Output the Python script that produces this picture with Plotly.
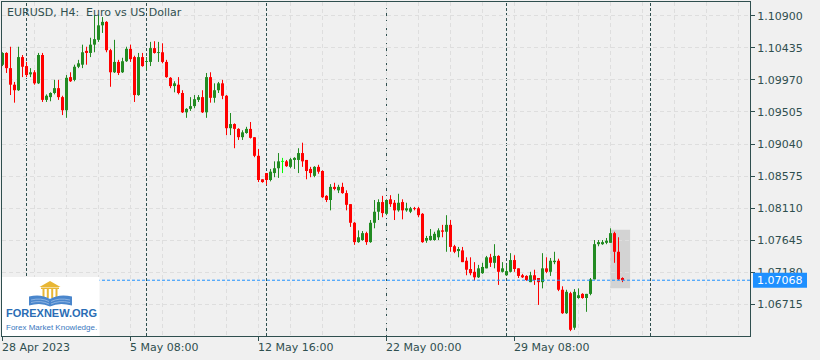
import plotly.graph_objects as go

# ---------------- data ----------------
chart_title = "EURUSD, H4:\u00a0 Euro vs US Dollar"

opens = [1.1019, 1.1036, 1.1014, 1.0990, 1.0982, 1.1030, 1.1017, 1.1005, 1.1008, 1.0992,
         1.1033, 1.0968, 1.0972, 1.0978, 1.0985, 1.0972, 1.0953, 1.1001, 1.0997, 1.1016,
         1.1019, 1.1039, 1.1036, 1.1048, 1.1055, 1.1076, 1.1081, 1.1040, 1.1008, 1.1023,
         1.1008, 1.1024, 1.1042, 1.1030, 1.0975, 1.1030, 1.1023, 1.1023, 1.1043, 1.1036,
         1.1037, 1.1023, 1.1000, 1.0988, 1.0990, 1.0978, 1.0950, 1.0955, 1.0959, 1.0968,
         1.0972, 1.0950, 1.1001, 1.0971, 1.0982, 1.0992, 1.0974, 1.0927, 1.0933, 1.0926,
         1.0914, 1.0920, 1.0926, 1.0914, 1.0887, 1.0853, 1.0862, 1.0852, 1.0862, 1.0869,
         1.0879, 1.0879, 1.0871, 1.0881, 1.0881, 1.0891, 1.0881, 1.0868, 1.0858, 1.0871,
         1.0865, 1.0829, 1.0823, 1.0842, 1.0837, 1.0842, 1.0833, 1.0817, 1.0790, 1.0762,
         1.0765, 1.0775, 1.0762, 1.0790, 1.0806, 1.0820, 1.0803, 1.0824, 1.0819, 1.0808,
         1.0820, 1.0808, 1.0806, 1.0811, 1.0811, 1.0803, 1.0764, 1.0765, 1.0765, 1.0769,
         1.0779, 1.0777, 1.0787, 1.0756, 1.0749, 1.0750, 1.0735, 1.0723, 1.0719, 1.0711,
         1.0717, 1.0724, 1.0740, 1.0732, 1.0742, 1.0719, 1.0714, 1.0719, 1.0736, 1.0724,
         1.0714, 1.0713, 1.0704, 1.0714, 1.0710, 1.0704, 1.0724, 1.0719, 1.0733, 1.0735,
         1.0693, 1.0659, 1.0688, 1.0638, 1.0681, 1.0687, 1.0681, 1.0687, 1.0708, 1.0759,
         1.0759, 1.0761, 1.0761, 1.0775, 1.0748, 1.0710]
highs = [1.1037, 1.1037, 1.1045, 1.0994, 1.1045, 1.1033, 1.1023, 1.1014, 1.1011, 1.1036,
         1.1036, 1.0976, 1.0979, 1.0997, 1.0997, 1.0974, 1.1004, 1.1008, 1.1019, 1.1026,
         1.1048, 1.1045, 1.1058, 1.1091, 1.1091, 1.1088, 1.1082, 1.1042, 1.1055, 1.1026,
         1.1029, 1.1045, 1.1048, 1.1032, 1.1036, 1.1036, 1.1030, 1.1052, 1.1053, 1.1052,
         1.1050, 1.1026, 1.1001, 1.0995, 1.1001, 1.0982, 1.0956, 1.0972, 1.0975, 1.0975,
         1.0982, 1.1007, 1.1008, 1.0992, 1.0994, 1.0997, 1.0975, 1.0949, 1.0934, 1.0927,
         1.0924, 1.0929, 1.0936, 1.0914, 1.0897, 1.0853, 1.0862, 1.0868, 1.0879, 1.0891,
         1.0884, 1.0881, 1.0884, 1.0885, 1.0898, 1.0906, 1.0881, 1.0871, 1.0872, 1.0874,
         1.0866, 1.0830, 1.0846, 1.0848, 1.0845, 1.0848, 1.0837, 1.0817, 1.0791, 1.0779,
         1.0778, 1.0777, 1.0794, 1.0823, 1.0824, 1.0829, 1.0824, 1.0830, 1.0823, 1.0832,
         1.0824, 1.0819, 1.0813, 1.0813, 1.0813, 1.0804, 1.0771, 1.0781, 1.0777, 1.0782,
         1.0787, 1.0801, 1.0794, 1.0758, 1.0755, 1.0755, 1.0740, 1.0740, 1.0733, 1.0729,
         1.0732, 1.0742, 1.0745, 1.0759, 1.0743, 1.0733, 1.0729, 1.0746, 1.0743, 1.0724,
         1.0716, 1.0714, 1.0719, 1.0722, 1.0710, 1.0746, 1.0740, 1.0739, 1.0748, 1.0738,
         1.0698, 1.0693, 1.0690, 1.0694, 1.0695, 1.0688, 1.0687, 1.0710, 1.0765, 1.0765,
         1.0765, 1.0768, 1.0782, 1.0777, 1.0769, 1.0711]
lows = [1.1017, 1.1007, 1.0975, 1.0964, 1.0981, 1.1001, 1.1001, 1.1001, 1.0990, 1.0991,
        1.0965, 1.0965, 1.0966, 1.0976, 1.0968, 1.0946, 1.0942, 1.0994, 1.0995, 1.1014,
        1.1014, 1.1019, 1.1030, 1.1037, 1.1052, 1.1065, 1.1037, 1.0987, 1.1007, 1.1004,
        1.1007, 1.1023, 1.1023, 1.0965, 1.0974, 1.1016, 1.1011, 1.1017, 1.1035, 1.1023,
        1.1021, 1.1000, 1.0985, 1.0979, 1.0976, 1.0949, 1.0942, 1.0952, 1.0956, 1.0965,
        1.0949, 1.0942, 1.0964, 1.0964, 1.0978, 1.0969, 1.0917, 1.0917, 1.0898, 1.0910,
        1.0910, 1.0919, 1.0912, 1.0885, 1.0849, 1.0848, 1.0845, 1.0850, 1.0856, 1.0855,
        1.0862, 1.0871, 1.0869, 1.0868, 1.0862, 1.0871, 1.0853, 1.0856, 1.0856, 1.0861,
        1.0826, 1.0820, 1.0808, 1.0837, 1.0833, 1.0832, 1.0808, 1.0784, 1.0758, 1.0761,
        1.0764, 1.0758, 1.0761, 1.0782, 1.0794, 1.0798, 1.0801, 1.0813, 1.0794, 1.0806,
        1.0795, 1.0806, 1.0804, 1.0808, 1.0798, 1.0761, 1.0761, 1.0764, 1.0764, 1.0765,
        1.0769, 1.0748, 1.0748, 1.0746, 1.0740, 1.0733, 1.0714, 1.0714, 1.0706, 1.0710,
        1.0716, 1.0724, 1.0726, 1.0724, 1.0700, 1.0718, 1.0713, 1.0718, 1.0719, 1.0710,
        1.0710, 1.0706, 1.0704, 1.0700, 1.0671, 1.0695, 1.0717, 1.0713, 1.0730, 1.0691,
        1.0658, 1.0658, 1.0633, 1.0635, 1.0680, 1.0680, 1.0661, 1.0685, 1.0708, 1.0756,
        1.0758, 1.0759, 1.0761, 1.0732, 1.0707, 1.0704]
closes = [1.1036, 1.1014, 1.0990, 1.0982, 1.1030, 1.1016, 1.1004, 1.1008, 1.0992, 1.1033,
          1.0968, 1.0974, 1.0978, 1.0985, 1.0972, 1.0953, 1.1000, 1.0995, 1.1016, 1.1021,
          1.1037, 1.1036, 1.1048, 1.1056, 1.1076, 1.1081, 1.1040, 1.1008, 1.1023, 1.1007,
          1.1024, 1.1042, 1.1027, 1.0975, 1.1030, 1.1017, 1.1024, 1.1043, 1.1036, 1.1037,
          1.1023, 1.1001, 1.0988, 1.0992, 1.0978, 1.0950, 1.0955, 1.0959, 1.0969, 1.0972,
          1.0950, 1.1001, 1.0971, 1.0982, 1.0992, 1.0974, 1.0927, 1.0933, 1.0926, 1.0914,
          1.0921, 1.0926, 1.0913, 1.0887, 1.0852, 1.0849, 1.0852, 1.0864, 1.0869, 1.0879,
          1.0879, 1.0872, 1.0882, 1.0884, 1.0891, 1.0879, 1.0865, 1.0862, 1.0871, 1.0864,
          1.0827, 1.0823, 1.0842, 1.0839, 1.0842, 1.0833, 1.0816, 1.0790, 1.0762, 1.0769,
          1.0775, 1.0762, 1.0790, 1.0806, 1.0820, 1.0804, 1.0823, 1.0817, 1.0808, 1.0819,
          1.0808, 1.0811, 1.0811, 1.0810, 1.0801, 1.0762, 1.0768, 1.0771, 1.0774, 1.0779,
          1.0777, 1.0787, 1.0755, 1.0748, 1.0752, 1.0733, 1.0722, 1.0717, 1.0711, 1.0724,
          1.0726, 1.0740, 1.0732, 1.0742, 1.0719, 1.0724, 1.0720, 1.0736, 1.0723, 1.0713,
          1.0711, 1.0707, 1.0714, 1.0707, 1.0704, 1.0724, 1.0719, 1.0735, 1.0735, 1.0693,
          1.0659, 1.0690, 1.0635, 1.0690, 1.0685, 1.0681, 1.0687, 1.0708, 1.0759, 1.0762,
          1.0762, 1.0764, 1.0775, 1.0748, 1.0708, 1.07068]

price_ticks = [1.06715, 1.07180, 1.07645, 1.08110, 1.08575, 1.09040, 1.09505, 1.09970, 1.10435, 1.10900]
time_tick_bars = [0, 32, 64, 96, 128]
time_tick_labels = ["28 Apr 2023", "5 May 08:00", "12 May 16:00", "22 May 00:00", "29 May 08:00"]
week_start_bars = [6, 36, 66, 96, 126, 162]
highlight_bars = [152, 155]
bid_price = 1.07068

# ---------------- layout constants ----------------
W, H = 820, 360
ML, MR, MT, MB = 2, 70, 2, 24
PW, PH = W - ML - MR, H - MT - MB
Y0, Y1 = 1.0626, 1.11098
X0, X1 = -0.125, 186.875

UP, DN, DOJI = "#228b22", "#ff0000", "#00ff00"
FG = "#2f4f4f"
BG = "#f0f0f0"
GRID = "#dedede"
BLUE = "#1e90ff"
FONT = "DejaVu Sans"


def pxx(x):
    return (x - ML) / PW


def pxy(y):
    return (MT + PH - y) / PH


n = len(opens)
bars = list(range(n))
cols = [DOJI if c == o else (UP if c > o else DN) for o, c in zip(opens, closes)]

fig = go.Figure()

# wicks
for colr in (UP, DN, DOJI):
    xs, ys = [], []
    for i in bars:
        if cols[i] == colr:
            xs += [i, i, None]
            ys += [lows[i], highs[i], None]
    fig.add_trace(go.Scatter(x=xs, y=ys, mode="lines", line=dict(color=colr, width=1),
                             hoverinfo="skip", showlegend=False))

# bodies
min_body = 0.00013
heights, bases = [], []
for o, c in zip(opens, closes):
    h = abs(c - o)
    if h < min_body:
        bases.append((o + c) / 2 - min_body / 2)
        heights.append(min_body)
    else:
        bases.append(min(o, c))
        heights.append(h)
fig.add_trace(go.Bar(x=bars, y=heights, base=bases, width=0.75,
                     marker=dict(color=cols, line=dict(width=0)),
                     hoverinfo="skip", showlegend=False))

shapes = []
# highlight box of the last candles
shapes.append(dict(type="rect", xref="x", yref="y",
                   x0=highlight_bars[0] - 0.1, x1=highlight_bars[1] + 1.9,
                   y0=min(lows[highlight_bars[0]:]) - 0.0009,
                   y1=max(highs[highlight_bars[0]:]) - 0.0002,
                   fillcolor="#d3d3d3", line=dict(width=0), layer="below"))
# period separators
for b in week_start_bars:
    shapes.append(dict(type="line", xref="x", yref="paper", x0=b, x1=b, y0=0, y1=1,
                       line=dict(color=FG, width=1, dash="3px,2px"), layer="between"))
# bid line
shapes.append(dict(type="line", xref="paper", yref="y", x0=0, x1=1, y0=bid_price, y1=bid_price,
                   line=dict(color=BLUE, width=1, dash="3px,2px"), layer="above"))
# bid price box
bid_py = (bid_price - Y0) / (Y1 - Y0)
shapes.append(dict(type="rect", xref="paper", yref="paper",
                   x0=pxx(753), x1=pxx(807), y0=bid_py - 7.5 / PH, y1=bid_py + 7.5 / PH,
                   fillcolor=BLUE, line=dict(width=0), layer="above"))

# logo
shapes.append(dict(type="rect", xref="paper", yref="paper", x0=pxx(2), x1=pxx(99.5),
                   y0=pxy(336), y1=pxy(277), fillcolor="white", line=dict(width=0), layer="above"))
GOLD = "#e8b634"
shapes.append(dict(type="path", xref="paper", yref="paper",
                   path=f"M {pxx(50)} {pxy(281)} L {pxx(60.5)} {pxy(287)} L {pxx(39.5)} {pxy(287)} Z",
                   fillcolor=GOLD, line=dict(width=0), layer="above"))
shapes.append(dict(type="rect", xref="paper", yref="paper", x0=pxx(41), x1=pxx(59),
                   y0=pxy(289), y1=pxy(287.5), fillcolor=GOLD, line=dict(width=0), layer="above"))
for cx in (43.5, 47.8, 52.2, 56.5):
    shapes.append(dict(type="rect", xref="paper", yref="paper", x0=pxx(cx - 1), x1=pxx(cx + 1),
                       y0=pxy(298), y1=pxy(289), fillcolor=GOLD, line=dict(width=0), layer="above"))
BOOK = "#4a86cc"
book_path = (f"M {pxx(29)} {pxy(296.5)} Q {pxx(41)} {pxy(293.5)} {pxx(50)} {pxy(299)} "
             f"Q {pxx(59)} {pxy(293.5)} {pxx(72)} {pxy(296.5)} L {pxx(72)} {pxy(305.5)} "
             f"Q {pxx(59)} {pxy(302)} {pxx(50)} {pxy(306.5)} Q {pxx(41)} {pxy(302)} {pxx(29)} {pxy(305.5)} Z")
shapes.append(dict(type="path", xref="paper", yref="paper", path=book_path,
                   fillcolor=BOOK, line=dict(width=0), layer="above"))
for yy in (300, 302.5):
    shapes.append(dict(type="path", xref="paper", yref="paper",
                       path=(f"M {pxx(31)} {pxy(yy)} Q {pxx(41)} {pxy(yy - 2.5)} {pxx(49)} {pxy(yy + 1.5)} "
                             f"M {pxx(51)} {pxy(yy + 1.5)} Q {pxx(59)} {pxy(yy - 2.5)} {pxx(70)} {pxy(yy)}"),
                       line=dict(color="#a9c6ea", width=0.7), layer="above"))

annotations = []
annotations.append(dict(text=chart_title, xref="paper", yref="paper", x=0, y=1,
                        xanchor="left", yanchor="top", xshift=3, yshift=-2, showarrow=False,
                        font=dict(family=FONT, size=11, color=FG)))
for b, lab in zip(time_tick_bars, time_tick_labels):
    annotations.append(dict(text=lab, xref="x", yref="paper", x=b, y=0, xanchor="left",
                            yanchor="top", xshift=-2.5, yshift=-3, showarrow=False,
                            font=dict(family=FONT, size=11, color=FG)))
annotations.append(dict(text=f"{bid_price:.5f}", xref="paper", yref="paper", x=pxx(780),
                        y=bid_py, xanchor="center", yanchor="middle", showarrow=False,
                        font=dict(family=FONT, size=11, color="white")))
annotations.append(dict(text="<b>FOREXNEW.ORG</b>", xref="paper", yref="paper", x=pxx(51.5),
                        y=pxy(313), xanchor="center", yanchor="middle", showarrow=False,
                        font=dict(family="Liberation Sans", size=11, color="#2a6db5")))
annotations.append(dict(text="Forex Market Knowledge.", xref="paper", yref="paper", x=pxx(51),
                        y=pxy(327), xanchor="center", yanchor="middle", showarrow=False,
                        font=dict(family="Liberation Sans", size=8, color="#3b78c0")))

fig.update_layout(
    width=W, height=H, autosize=False,
    margin=dict(l=ML, r=MR, t=MT, b=MB, pad=0),
    paper_bgcolor=BG, plot_bgcolor=BG,
    barmode="overlay", hovermode=False, showlegend=False,
    shapes=shapes, annotations=annotations,
    xaxis=dict(range=[X0, X1], tickvals=time_tick_bars, showticklabels=False,
               ticks="outside", ticklen=4, tickwidth=1, tickcolor=FG,
               showline=True, linecolor=FG, linewidth=1, mirror=True,
               showgrid=True, gridcolor=GRID, griddash="4px,3px", gridwidth=1,
               minor=dict(tick0=0, dtick=8, showgrid=True, gridcolor=GRID,
                          griddash="4px,3px", gridwidth=1, ticks=""),
               zeroline=False, fixedrange=True),
    yaxis=dict(range=[Y0, Y1], side="right", tickvals=price_ticks, tickformat=".5f",
               ticks="outside", ticklen=4, tickwidth=1, tickcolor=FG,
               showline=True, linecolor=FG, linewidth=1, mirror=True,
               showgrid=True, gridcolor=GRID, griddash="4px,3px", gridwidth=1,
               zeroline=False, fixedrange=True,
               tickfont=dict(family=FONT, size=11, color=FG)),
)

fig.write_html("out.html", config={"staticPlot": True},
               post_script="document.body.style.margin='0';document.body.style.background='#f0f0f0';")
